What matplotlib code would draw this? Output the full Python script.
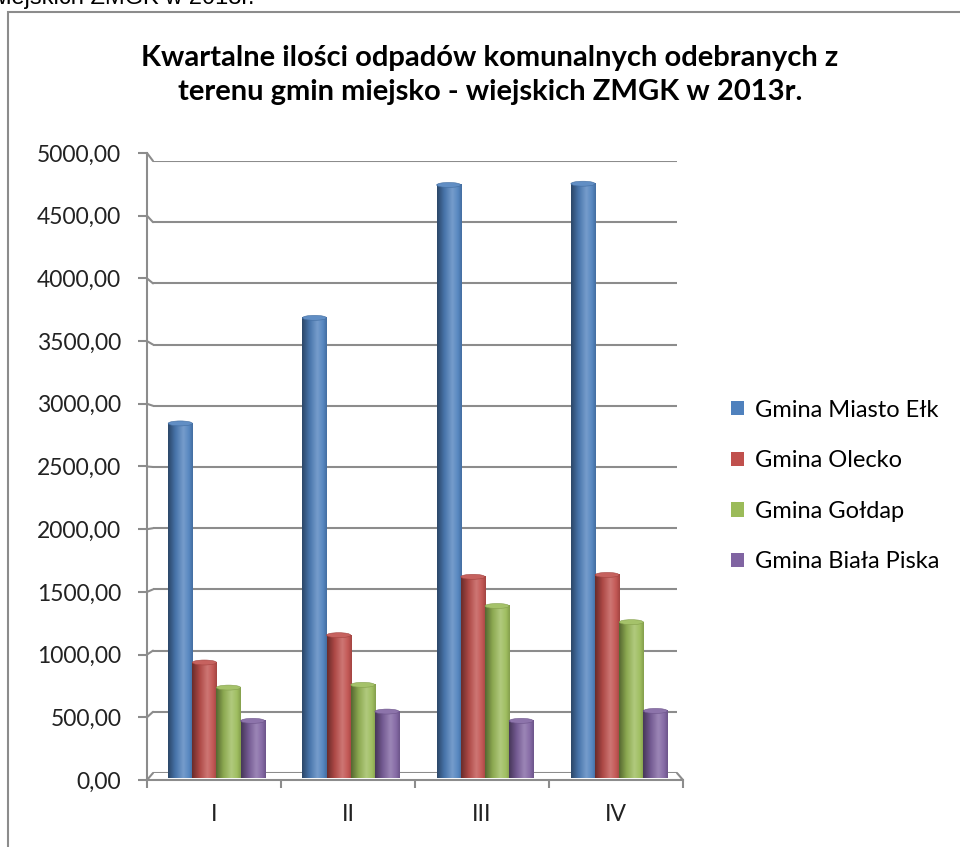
import numpy as np
import matplotlib.pyplot as plt
from matplotlib.colors import LinearSegmentedColormap, to_rgb
from matplotlib.patches import Patch, Ellipse, Rectangle, ConnectionPatch

# -------- Data -------- #
quarters = ["I", "II", "III", "IV"]
series_names = ["Gmina Miasto Ełk", "Gmina Olecko", "Gmina Gołdap", "Gmina Biała Piska"]
elk = [2855, 3705, 4775, 4785]
olecko = [930, 1150, 1620, 1635]
goldap = [728, 750, 1385, 1255]
biala_piska = [460, 535, 460, 540]
series_values = [elk, olecko, goldap, biala_piska]
colors = ["#4F81BD", "#C0504D", "#9BBB59", "#8064A2"]
y_ticks = np.arange(0, 5001, 500)

title = "Kwartalne ilości odpadów komunalnych odebranych z\nterenu gmin miejsko - wiejskich ZMGK w 2013r."

W, H = 960, 847
FONT = "Lato"
GRID = "#8c8c8c"


def fx(px):
    return px / W


def fy(py):
    return 1 - py / H


def shade(c, f):
    r = np.array(to_rgb(c))
    if f < 1:
        return tuple(r * f)
    return tuple(r + (1 - r) * (f - 1))


fig = plt.figure(figsize=(W / 100, H / 100), dpi=100)
fig.patch.set_facecolor("white")

# back wall with gridlines
ax_back = fig.add_axes([fx(153), fy(773), (677 - 153) / W, (773 - 161) / H])
ax_back.set_facecolor("none")
ax_back.set_ylim(0, 5000)
ax_back.set_xlim(0, 4)
ax_back.set_yticks(y_ticks)
ax_back.set_xticks([])
ax_back.tick_params(axis="y", length=0, labelleft=False)
ax_back.grid(axis="y", color=GRID, lw=1.5)
for s in ax_back.spines.values():
    s.set_visible(False)

# bars
ax = fig.add_axes([fx(146), fy(778), (683 - 146) / W, (778 - 157) / H])
ax.set_facecolor("none")
bar_w = 0.18
start = 0.165
for j, (vals, col) in enumerate(zip(series_values, colors)):
    cmap = LinearSegmentedColormap.from_list(
        "c%d" % j,
        [(0, shade(col, 0.55)), (0.3, shade(col, 0.9)), (0.62, shade(col, 1.22)),
         (0.85, shade(col, 1.05)), (1, shade(col, 0.85))])
    grad = np.linspace(0, 1, 64).reshape(1, -1)
    for i, v in enumerate(vals):
        x0 = i + start + j * bar_w
        ax.imshow(grad, cmap=cmap, extent=[x0, x0 + bar_w, 0, v], aspect="auto",
                  interpolation="bicubic", zorder=2)
        ax.add_patch(Ellipse((x0 + bar_w / 2, v), bar_w, 40, facecolor=shade(col, 1.1),
                             edgecolor=shade(col, 0.85), lw=0.4, zorder=3))
ax.set_xlim(0, 4)
ax.set_ylim(0, 5000)
ax.axis("off")

# front axis
ax_front = fig.add_axes([fx(147), fy(780), (683 - 147) / W, (780 - 153) / H])
ax_front.set_facecolor("none")
ax_front.set_xlim(0, 4)
ax_front.set_ylim(0, 5000)
for k in ["top", "right"]:
    ax_front.spines[k].set_visible(False)
for k in ["left", "bottom"]:
    ax_front.spines[k].set_color(GRID)
    ax_front.spines[k].set_linewidth(1.5)
ax_front.set_yticks(y_ticks)
ax_front.set_yticklabels([f"{t:.2f}".replace(".", ",") for t in y_ticks],
                         fontsize=16.5, family=FONT, color="#222222")
ax_front.tick_params(axis="y", length=6.5, width=1.5, color=GRID, pad=12)
ax_front.set_xticks(range(5))
ax_front.set_xticklabels([])
ax_front.set_xticks(np.arange(4) + 0.5, minor=True)
ax_front.set_xticklabels(quarters, minor=True, fontsize=16.5, family=FONT, color="#222222")
ax_front.tick_params(axis="x", which="major", length=6, width=1.5, color=GRID)
ax_front.tick_params(axis="x", which="minor", length=0, pad=17)

# perspective connectors between front ticks and back grid
for t in y_ticks:
    fig.add_artist(ConnectionPatch((0, t), (0, t), coordsA=ax_front.get_yaxis_transform(),
                                   coordsB=ax_back.get_yaxis_transform(),
                                   color=GRID, lw=1.5))
fig.add_artist(ConnectionPatch((1, 0), (1, 0), coordsA=ax_front.transAxes,
                               coordsB=ax_back.transAxes, color=GRID, lw=1.5))

# title
fig.text(fx(490), fy(75), title, ha="center", va="center", fontsize=21,
         fontweight="bold", family=FONT, linespacing=1.4, color="black")

# legend
handles = [Patch(facecolor=c, edgecolor="none") for c in colors]
fig.legend(handles, series_names, loc="center left", bbox_to_anchor=(fx(710), fy(486)),
           frameon=False, prop={"family": FONT, "size": 17}, handlelength=0.55,
           handleheight=0.55, handletextpad=0.45, labelspacing=1.25)

# chart frame and cut-off caption above it
fig.add_artist(Rectangle((fx(8), -0.1), 1.2, fy(12) + 0.1, transform=fig.transFigure,
                         fill=False, edgecolor="#8c8c8c", lw=1.5))
fig.text(fx(255), fy(4), "wiejskich ZMGK w 2013r.", ha="right", va="baseline",
         fontsize=17, family="Liberation Sans", color="black")

fig.savefig("out.png", dpi=100)
